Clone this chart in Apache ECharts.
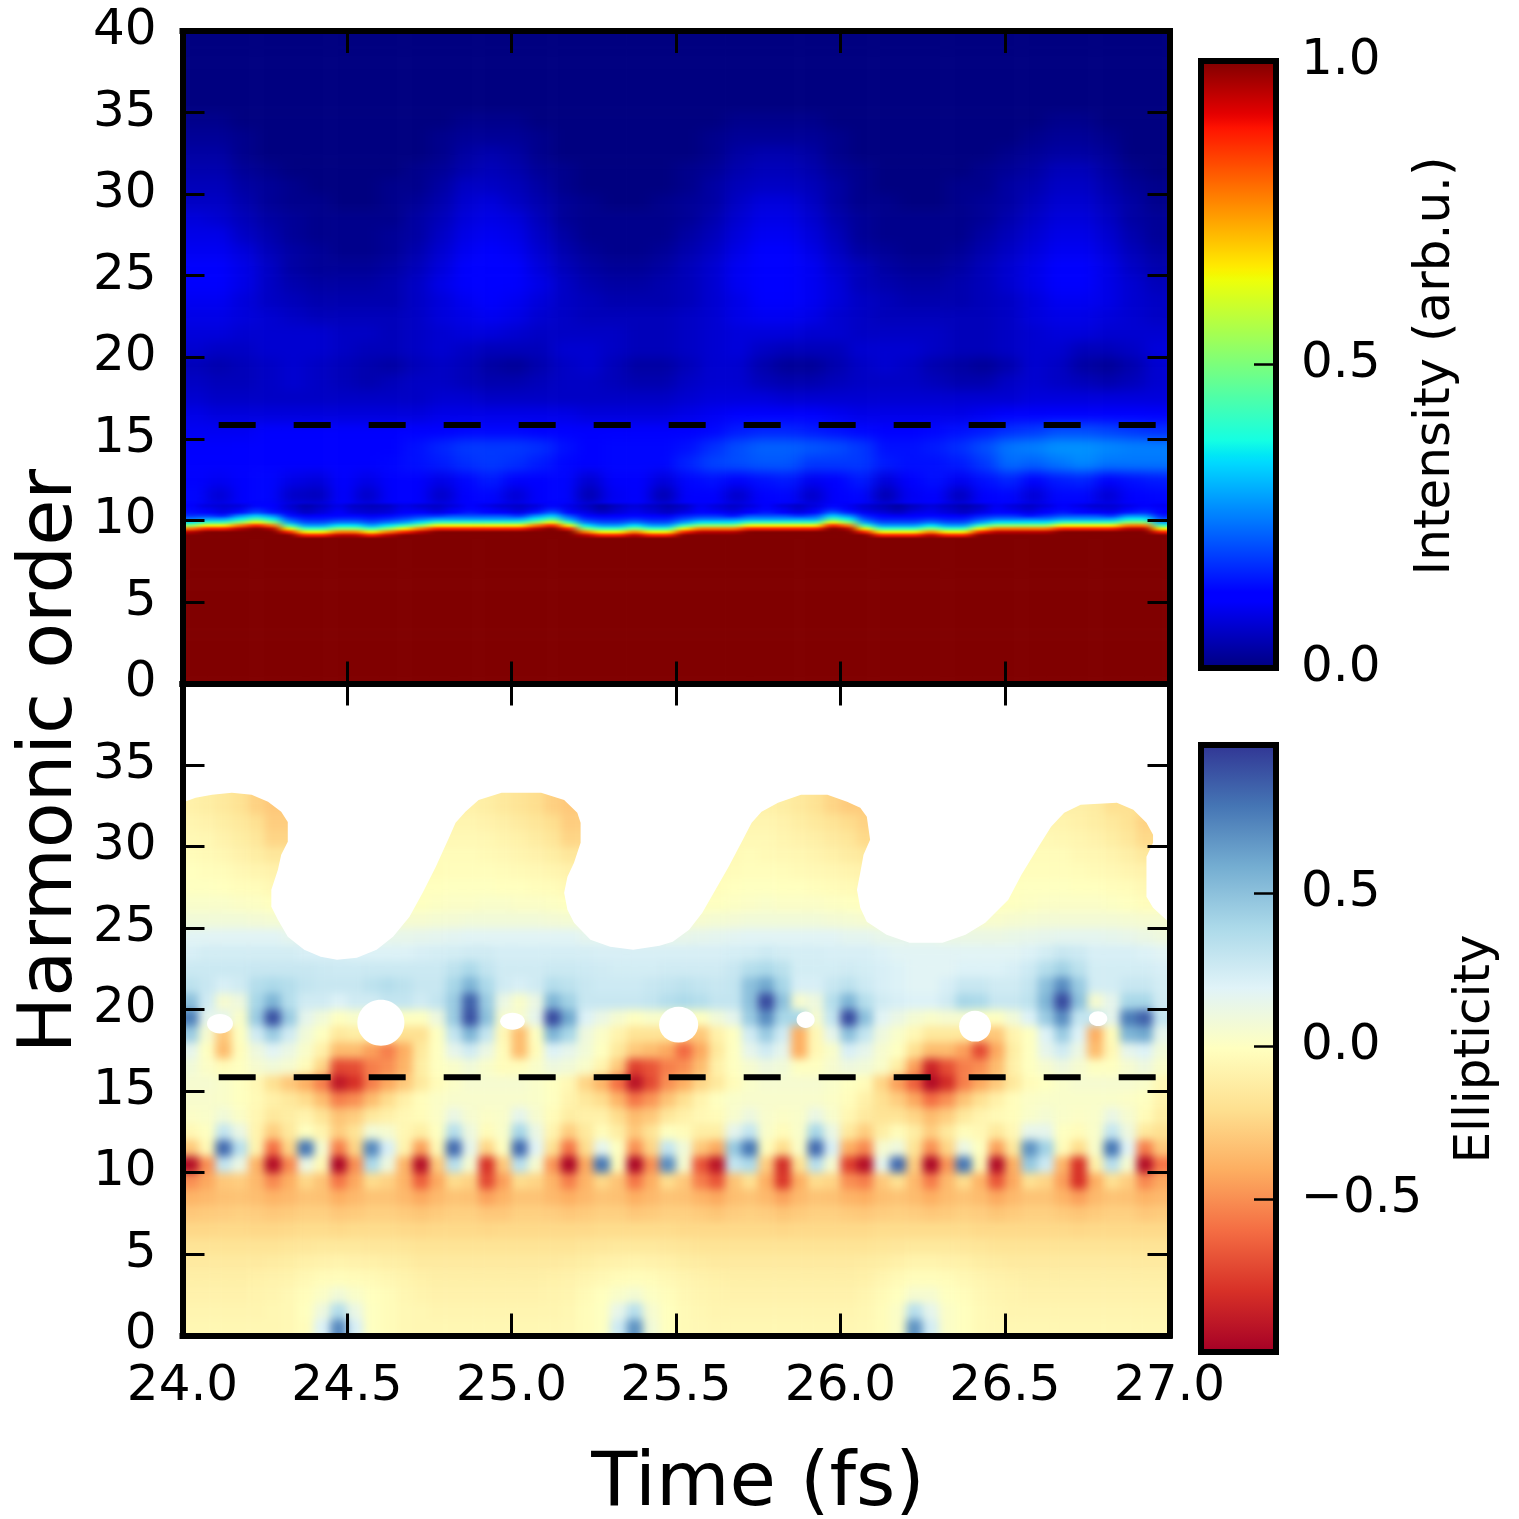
<!DOCTYPE html>
<html><head><meta charset="utf-8">
<style>html,body{margin:0;padding:0;background:#fff}#c{width:1519px;height:1519px}</style>
<script src="https://cdn.jsdelivr.net/npm/echarts@6/dist/echarts.min.js"></script>
</head><body>
<svg width="0" height="0" style="position:absolute">
<filter id="fA" x="-5%" y="-5%" width="110%" height="110%" color-interpolation-filters="sRGB"><feGaussianBlur stdDeviation="8 5.5"/></filter>
<filter id="fB" x="-5%" y="-5%" width="110%" height="110%" color-interpolation-filters="sRGB"><feGaussianBlur stdDeviation="6 1"/></filter>
<filter id="fC" x="-5%" y="-5%" width="110%" height="110%" color-interpolation-filters="sRGB"><feGaussianBlur stdDeviation="4.5 4"/></filter>
</svg>
<div id="c"></div>
<script>
const _ = null;
const xTicks = [24, 27, 0.5];
const orderTicks = [0, 40, 5];
const dashTimes = [24.11, 26.96];
const dashOrder = 15.85;
const red40 = [100,100,100,100,100,100,100,100,100,100,100,100,100,100,100,100,100,100,100,100,100,100,100,100,100,100,100,100,100,100,100,100,100,100,100,100,100,100,100,100];
const navy40 = [0,0,0,0,0,0,0,0,0,0,0,0,0,0,0,0,0,0,0,0,0,0,0,0,0,0,0,0,0,0,0,0,0,0,0,0,0,0,0,0];
const blank60 = [_,_,_,_,_,_,_,_,_,_,_,_,_,_,_,_,_,_,_,_,_,_,_,_,_,_,_,_,_,_,_,_,_,_,_,_,_,_,_,_,_,_,_,_,_,_,_,_,_,_,_,_,_,_,_,_,_,_,_,_];
// intensity, percent, rows are harmonic orders 0..39, 40 columns over 24-27 fs
const intensityRows = [
red40,red40,red40,red40,red40,red40,red40,red40,red40,red40,
[12,12,12,12,12,12,12,12,12,12,12,12,12,12,12,12,12,12,12,12,12,12,12,12,12,12,12,12,12,12,12,12,12,12,12,12,12,12,12,12],
[13,7,12,13,6,5,11,6,11,12,6,12,13,7,11,13,4,10,11,4,11,12,6,12,13,6,11,13,4,10,12,5,11,13,7,13,13,7,12,13],
[12,10,12,13,9,8,12,9,12,12,9,13,15,11,12,13,7,11,12,8,13,14,11,14,15,10,12,15,8,12,14,10,14,16,12,15,16,11,14,15],
[12,12,12,12,12,12,12,12,13,14,15,17,18,17,15,13,12,13,13,13,16,19,20,21,21,18,18,18,15,14,14,15,18,23,22,24,26,24,24,24],
[11,11,12,12,12,12,12,12,12,14,16,18,18,18,17,14,12,13,13,13,14,17,20,22,22,21,20,18,14,14,15,17,20,24,25,27,27,26,25,25],
[10,10,10,11,11,11,11,11,11,12,12,13,13,13,12,12,11,11,11,11,11,13,15,16,16,15,14,13,12,12,13,14,15,17,18,20,20,19,18,17],
[9,8,8,8,8,8,8,8,8,8,9,9,9,9,9,9,8,8,8,8,9,10,11,11,11,11,10,9,9,9,9,9,10,11,11,12,12,12,12,11],
[7,6,6,6,6,6,6,6,6,6,7,7,6,6,6,6,6,6,6,6,7,8,8,8,7,7,7,7,7,7,7,7,7,7,8,8,8,8,8,8],
[6,5,5,6,7,6,5,4,5,6,6,5,4,4,5,6,6,5,4,4,6,7,7,5,4,4,5,6,6,6,5,4,4,6,7,6,5,4,5,7],
[5,4,5,6,7,6,5,4,3,5,6,5,3,2,4,6,7,5,3,3,5,7,7,4,2,2,4,6,7,6,4,3,2,4,7,6,3,2,4,7],
[7,6,6,7,7,7,6,5,5,6,7,6,5,5,5,7,7,6,5,5,6,7,8,6,5,5,5,7,7,7,6,5,5,6,7,7,5,5,6,8],
[8,8,7,7,7,7,6,6,5,6,7,8,8,7,6,6,6,6,5,5,6,7,8,8,8,7,7,6,6,6,6,5,5,6,7,8,8,7,7,7],
[9,9,8,7,6,5,5,5,5,6,8,9,10,9,7,6,5,5,5,5,6,7,9,10,10,9,7,6,5,5,5,5,5,6,8,9,9,8,7,6],
[10,10,8,6,5,4,4,4,4,6,8,10,11,10,8,6,5,4,4,4,5,7,9,11,11,10,8,6,5,4,4,4,5,6,8,10,10,9,7,6],
[11,11,9,6,4,3,3,3,4,6,9,11,12,11,9,6,4,3,3,4,5,7,10,12,12,10,8,5,4,3,3,4,5,7,9,11,11,9,7,5],
[11,11,9,6,3,2,2,2,3,5,8,11,12,11,8,5,3,2,2,3,5,7,10,12,12,10,7,5,3,2,2,3,5,7,9,11,11,9,6,4],
[10,10,8,5,3,2,1,1,2,4,7,10,11,10,7,4,2,1,1,2,4,6,9,11,11,9,6,3,2,1,1,2,4,6,8,10,10,8,5,3],
[9,9,6,4,2,1,1,1,2,3,6,9,10,9,6,3,1,1,1,1,3,5,8,10,10,8,5,2,1,1,1,1,3,5,7,9,9,7,4,2],
[8,7,5,3,2,1,1,1,1,3,5,8,9,8,5,2,1,1,1,1,2,4,7,9,9,7,4,2,1,1,1,1,2,4,6,8,8,6,3,2],
[6,6,4,2,1,1,0,0,1,2,4,7,8,6,4,2,1,0,0,1,2,3,6,8,8,6,3,1,1,0,0,1,2,3,5,7,7,5,3,1],
[5,5,3,2,1,0,0,0,1,1,3,6,6,5,3,1,0,0,0,0,1,3,5,6,6,5,3,1,0,0,0,1,1,3,4,6,6,4,2,1],
[4,4,2,1,0,0,0,0,0,1,2,4,5,4,2,1,0,0,0,0,1,2,4,5,5,4,2,1,0,0,0,0,1,2,3,5,5,3,1,0],
[3,3,1,0,0,0,0,0,0,0,1,3,4,3,1,0,0,0,0,0,0,1,3,4,4,3,1,0,0,0,0,0,0,1,2,3,3,2,0,0],
[2,2,1,0,0,0,0,0,0,0,1,2,2,2,1,0,0,0,0,0,0,1,2,2,2,2,1,0,0,0,0,0,0,0,1,2,2,1,0,0],
[1,1,0,0,0,0,0,0,0,0,0,1,1,1,0,0,0,0,0,0,0,0,1,1,1,1,0,0,0,0,0,0,0,0,0,1,1,0,0,0],
navy40,navy40,navy40,navy40,navy40
];
// intensity around the cut-off edge, orders 9..11 in steps of 0.2, 60 columns
const edgeRows = [
[100,100,100,100,100,100,100,88,88,95, 95,88,95,100,100,100,100,100,100,100, 100,100,100,100,95,88,88,95,88,88, 100,100,100,100,100,100,100,100,100,100, 100,100,88,88,88,95,88,88,100,100, 100,100,100,100,100,100,100,100,100,100],
[95,100,100,100,100,100,88,65,65,78, 78,65,78,88,95,100,100,100,100,100, 100,100,100,100,78,65,65,78,65,65, 88,95,95,95,100,100,100,100,100,100, 100,88,65,65,65,78,65,65,88,95, 95,95,95,100,100,100,100,100,100,88],
[78,88,88,95,100,95,65,42,42,52, 52,42,52,65,78,88,88,88,88,88, 88,95,100,88,52,42,42,52,42,42, 65,78,78,78,88,88,88,88,88,100, 95,65,42,42,42,52,42,42,65,78, 78,78,78,88,88,88,88,95,95,65],
[52,65,65,78,88,78,42,28,28,35, 35,28,35,42,52,65,65,65,65,65, 65,78,88,65,35,28,28,35,28,28, 42,52,52,52,65,65,65,65,65,88, 78,42,28,28,28,35,28,28,42,52, 52,52,52,65,65,65,65,78,78,42],
[35,42,42,52,65,52,28,20,20,24, 24,20,24,28,35,42,42,42,42,42, 42,52,65,42,24,20,20,24,20,20, 28,35,35,35,42,42,42,42,42,65, 52,28,20,20,20,24,20,20,28,35, 35,35,35,42,42,42,42,52,52,28],
[24,28,28,36,45,36,20,15,15,17, 17,15,17,20,24,28,28,28,28,28, 28,36,45,28,17,15,15,17,15,15, 20,24,24,24,28,28,28,28,28,45, 36,20,15,15,15,17,15,15,20,24, 24,24,24,28,28,28,28,36,36,20],
[17,18,15,26,32,26,14,10,12,13, 13,10,13,15,17,17,20,20,20,20, 17,26,32,20,13,10,12,13,12,10, 15,17,17,14,20,20,20,17,20,32, 26,15,12,10,12,13,12,10,15,17, 17,14,17,20,20,20,17,26,26,15],
[14,12,9,14,20,15,10,6,8,11, 8,7,8,11,12,9,12,15,13,11, 9,15,22,13,9,6,8,10,8,6, 9,13,12,9,12,15,12,9,13,22, 16,10,8,6,9,10,8,6,9,13, 12,9,12,15,13,11,10,15,17,12],
[13,10,8,10,16,13,8,5,7,10, 7,6,7,10,9,7,10,13,11,9, 7,10,16,10,7,4,7,9,7,5, 7,11,9,7,10,13,10,7,10,16, 12,8,6,4,7,9,7,5,7,11, 9,7,10,13,11,9,8,11,14,11],
[12,8,7,8,13,12,7,4,6,9, 6,5,6,9,7,6,8,12,9,7, 6,8,13,9,6,3,6,8,6,4, 6,10,8,6,8,12,8,6,8,13, 10,7,5,3,6,8,6,4,6,10, 8,6,8,12,9,7,7,9,12,10]
];
// ellipticity, percent, rows are harmonic orders 0..39, 60 columns; null = not plotted
const ellipticityRows = [
[-6,-6,-6,-6,-6,-6,-5,-2,20,72, 22,0,-3,-5,-6,-6,-6,-6,-6,-6, -6,-6,-6,-5,-3,0,26,68,8,-1, -4,-5,-6,-6,-6,-6,-6,-6,-6,-6, -6,-5,-3,2,68,24,2,-1,-4,-5, -6,-6,-6,-6,-6,-6,-6,-6,-6,-6],
[-7,-7,-7,-7,-7,-6,-5,-1,10,36, 12,0,-3,-5,-6,-7,-7,-7,-7,-7, -7,-7,-7,-6,-3,0,14,34,5,-1, -4,-6,-7,-7,-7,-7,-7,-7,-7,-7, -7,-6,-3,2,34,15,2,-1,-4,-6, -7,-7,-7,-7,-7,-7,-7,-7,-7,-7],
[-9,-9,-9,-9,-8,-7,-5,-2,2,8, 3,-1,-3,-6,-8,-9,-9,-9,-9,-9, -9,-9,-8,-7,-4,-1,3,6,1,-2, -5,-7,-8,-9,-9,-9,-9,-9,-9,-9, -9,-7,-4,-1,5,5,0,-2,-5,-7, -8,-9,-9,-9,-9,-9,-9,-9,-9,-9],
[-11,-11,-11,-11,-10,-9,-8,-5,-3,-2, -3,-4,-6,-8,-10,-11,-11,-11,-11,-11, -11,-11,-10,-9,-7,-5,-3,-2,-3,-5, -7,-9,-10,-11,-11,-11,-11,-11,-11,-11, -11,-10,-7,-4,-2,-2,-3,-5,-7,-9, -10,-11,-11,-11,-11,-11,-11,-11,-11,-11],
[-14,-14,-14,-14,-14,-13,-12,-10,-9,-8, -9,-10,-11,-12,-14,-14,-14,-14,-14,-14, -14,-14,-14,-13,-12,-10,-9,-8,-9,-10, -12,-13,-14,-14,-14,-14,-14,-14,-14,-14, -14,-13,-12,-10,-8,-8,-9,-10,-12,-13, -14,-14,-14,-14,-14,-14,-14,-14,-14,-14],
[-18,-18,-18,-18,-18,-18,-17,-16,-15,-15, -15,-16,-16,-17,-18,-18,-18,-18,-18,-18, -18,-18,-18,-18,-17,-16,-15,-15,-15,-16, -17,-18,-18,-18,-18,-18,-18,-18,-18,-18, -18,-18,-17,-16,-15,-15,-15,-16,-17,-18, -18,-18,-18,-18,-18,-18,-18,-18,-18,-18],
[-24,-24,-23,-23,-24,-24,-23,-22,-22,-23, -22,-22,-22,-23,-24,-23,-23,-23,-24,-23, -23,-23,-23,-23,-23,-22,-22,-22,-22,-22, -23,-23,-23,-23,-23,-23,-24,-23,-23,-23, -23,-23,-22,-22,-22,-22,-22,-22,-23,-23, -23,-23,-23,-23,-24,-23,-23,-23,-23,-23],
[-30,-29,-28,-27,-28,-30,-29,-27,-27,-30, -29,-27,-27,-29,-31,-29,-27,-27,-30,-30, -27,-27,-28,-30,-29,-27,-27,-30,-29,-27, -27,-29,-31,-28,-27,-28,-31,-29,-27,-27, -29,-30,-28,-27,-28,-30,-29,-27,-28,-31, -29,-27,-27,-29,-31,-29,-27,-27,-30,-29],
[-38,-36,-33,-32,-34,-38,-36,-32,-33,-40, -36,-32,-32,-36,-42,-36,-32,-33,-44,-38, -32,-32,-36,-40,-36,-32,-33,-40,-36,-32, -33,-38,-42,-34,-32,-36,-44,-36,-32,-33, -38,-40,-34,-32,-35,-40,-35,-32,-35,-42, -36,-32,-32,-38,-45,-36,-32,-33,-38,-36],
[-50,-42,-30,-28,-36,-52,-40,-24,-32,-58, -42,-22,-26,-38,-65,-42,-22,-26,-72,-45, -22,-25,-38,-55,-38,-24,-32,-58,-40,-22, -30,-55,-68,-32,-20,-40,-78,-40,-22,-25, -50,-55,-30,-20,-36,-56,-36,-22,-38,-68, -42,-20,-25,-45,-80,-40,-20,-28,-52,-42],
[-95,-50,30,12,-38,-95,-52,12,-5,-98, -50,38,10,-38,-95,-30,34,5,-80,-30, 34,5,-48,-98,-42,78,-3,-98,-50,70, 5,-68,-92,30,38,-28,-82,-20,34,5, -75,-95,15,82,-28,-98,-48,78,-5,-96, -40,46,26,-38,-80,-10,34,5,-95,-58],
[-30,-5,82,34,-8,-60,-25,78,5,-55, -25,72,22,-8,-45,-5,82,15,-25,0, 82,18,-20,-58,-22,16,0,-50,-25,30, 8,-30,-42,46,78,-2,-22,2,82,22, -40,-52,5,10,-18,-50,-25,12,0,-45, -15,68,42,-3,-22,3,78,18,-55,-30],
[-5,0,30,12,-8,-28,-15,0,-8,-28, -18,8,5,-6,-12,0,35,10,-3,3, 40,12,-8,-28,-15,-3,-12,-30,-18,0, -3,-12,-12,15,30,3,-3,3,40,12, -15,-28,-12,-3,-12,-28,-15,-2,-5,-15, -5,15,15,0,-3,3,30,10,-15,-20],
[2,3,8,2,-6,-15,-12,-8,-18,-32, -28,-15,-10,-5,-3,2,12,5,2,3, 15,5,-3,-12,-10,-10,-22,-35,-30,-16, -10,-5,-3,4,10,4,2,3,12,4, -6,-14,-18,-18,-25,-35,-28,-15,-8,-4, -2,3,6,3,2,3,12,5,-3,-12],
[4,4,3,0,-4,-10,-15,-22,-35,-55, -50,-35,-22,-10,-2,2,4,4,4,4, 4,3,0,-8,-15,-22,-38,-58,-48,-32, -20,-8,0,3,4,4,4,4,4,2, -2,-10,-20,-28,-42,-60,-50,-32,-20,-10, -2,2,3,3,3,3,3,2,0,-8],
[5,5,3,0,-5,-20,-30,-40,-55,-90, -80,-55,-42,-30,-15,-3,2,5,5,5, 5,3,0,-5,-25,-38,-60,-92,-72,-50, -40,-25,-15,-3,3,5,5,5,5,3, 0,-3,-25,-45,-65,-95,-82,-55,-42,-30, -15,-3,0,3,5,5,5,5,3,-5],
[8,2,-3,0,5,8,5,-3,-25,-72, -70,-55,-50,-38,-12,0,3,8,3,-2, -2,3,10,8,3,-8,-30,-75,-68,-55, -50,-35,-10,0,5,10,8,0,0,5, 10,8,3,-12,-45,-85,-70,-55,-50,-35, -10,0,5,10,5,0,0,5,10,3],
[15,0,-35,-2,10,18,12,3,-10,-35, -35,-45,-55,-40,-15,0,15,25,12,-3, -35,-3,20,15,8,0,-15,-30,-35,-42, -62,-42,-15,0,15,25,15,-40,-5,3, 22,15,5,0,-20,-35,-35,-45,-72,-42, -12,0,15,25,12,-35,-5,15,20,8],
[45,5,-30,0,25,45,25,8,0,-15, -12,_,_,_,-20,0,30,55,30,-5, -35,0,55,40,10,2,-8,-18,-18,_, _,-30,-10,0,25,45,25,-40,-5,15, 50,30,10,3,-5,-15,-15,_,_,-30, -8,0,20,45,20,-40,-3,55,60,15],
[75,15,_,3,45,90,45,15,8,0, 3,_,_,_,0,10,45,90,50,5, _,15,92,60,20,12,5,0,3,_, _,0,8,15,45,70,40,_,5,30, 92,50,18,12,6,3,5,_,_,0, 8,20,45,70,30,_,15,75,85,30],
[50,25,5,10,40,55,35,25,25,20, 25,_,_,30,25,30,45,85,45,12, 3,12,55,42,28,28,28,28,30,35, 38,35,30,30,50,92,50,5,10,35, 55,35,25,22,20,20,25,40,38,28, 28,32,55,92,50,5,15,40,40,25],
[32,28,22,25,35,38,35,30,28,28, 28,32,35,32,28,28,40,55,38,25, 22,25,35,32,28,26,26,26,28,30, 32,30,28,30,50,60,40,22,22,28, 32,26,22,20,18,18,22,28,28,25, 25,30,50,70,45,24,24,28,28,24],
[27,27,27,27,28,28,28,28,27,26, 26,27,27,27,27,27,32,38,30,25, 25,25,27,27,26,25,24,24,24,25, 25,25,25,28,35,38,33,24,24,24, 25,24,22,20,18,18,18,20,20,20, 22,26,35,42,33,24,24,24,24,22],
[22,24,24,24,24,24,24,22,_,_, _,_,20,20,22,23,24,25,25,23, 23,23,23,23,23,22,22,22,22,22, 22,22,22,23,24,26,24,23,23,22, 22,22,20,18,18,18,18,18,18,18, 18,20,24,28,26,22,22,22,20,18],
[18,18,18,18,18,18,16,_,_,_, _,_,_,14,15,16,17,18,18,18, 18,18,18,18,16,_,_,_,_,_, 14,15,16,17,18,18,18,18,18,18, 16,16,14,_,_,_,_,_,12,12, 13,14,15,16,16,16,15,14,12,10],
[8,8,8,8,7,6,_,_,_,_, _,_,_,_,5,6,7,8,8,8, 8,8,7,6,_,_,_,_,_,_, _,5,6,7,8,8,8,8,8,7, 6,5,_,_,_,_,_,_,_,4, 5,6,7,7,7,7,7,6,5,_],
[3,3,3,2,1,-1,_,_,_,_, _,_,_,_,0,1,2,2,3,3, 2,2,1,0,_,_,_,_,_,_, _,_,0,1,2,3,2,2,2,1, 0,-1,_,_,_,_,_,_,_,_, 0,1,2,2,2,2,1,0,-2,_],
[0,0,-1,-2,-3,-5,_,_,_,_, _,_,_,_,_,-1,0,0,0,-1, -1,-2,-3,-5,_,_,_,_,_,_, _,_,-2,-1,0,0,-1,-1,-2,-3, -4,-5,_,_,_,_,_,_,_,_, -1,0,0,0,-1,-1,-2,-3,-5,_],
[-1,-2,-3,-5,-7,-9,_,_,_,_, _,_,_,_,_,-3,-2,-2,-2,-3, -4,-5,-7,-9,_,_,_,_,_,_, _,_,_,-3,-2,-2,-3,-4,-5,-6, -8,-9,_,_,_,_,_,_,_,_, _,-2,-2,-2,-3,-4,-5,-7,-9,_],
[-3,-4,-6,-9,-12,-16,_,_,_,_, _,_,_,_,_,_,-3,-3,-4,-5, -7,-9,-12,-16,_,_,_,_,_,_, _,_,_,-4,-3,-4,-5,-6,-8,-10, -13,-15,_,_,_,_,_,_,_,_, _,_,-3,-3,-5,-6,-8,-11,-15,_],
[-5,-6,-9,-12,-16,-25,_,_,_,_, _,_,_,_,_,_,-5,-5,-6,-8, -10,-13,-17,-25,_,_,_,_,_,_, _,_,_,_,-5,-5,-7,-9,-11,-14, -17,-23,_,_,_,_,_,_,_,_, _,_,-5,-6,-7,-9,-12,-16,-23,_],
[-7,-9,-12,-15,-20,-28,_,_,_,_, _,_,_,_,_,_,_,-7,-9,-11, -14,-17,-21,-28,_,_,_,_,_,_, _,_,_,_,_,-7,-9,-12,-15,-18, -22,-26,_,_,_,_,_,_,_,_, _,_,_,-8,-10,-12,-15,-19,-26,_],
[-10,-12,-15,-19,-26,-30,_,_,_,_, _,_,_,_,_,_,_,-10,-12,-15, -18,-21,-27,-30,_,_,_,_,_,_, _,_,_,_,_,-10,-12,-15,-19,-25, -29,_,_,_,_,_,_,_,_,_, _,_,_,_,-11,-13,-20,_,_,_],
blank60,blank60,blank60,blank60,blank60,blank60,blank60
];
// outline of the not-plotted region above the ellipticity signal
const maskTime = [24,24.04,24.09,24.15,24.21,24.26,24.30,24.32,24.32,24.30,24.29,24.27,24.27,24.29,24.32,24.37,24.42,24.47,24.53,24.59,24.64,24.69,24.73,24.77,24.81,24.83,24.86,24.90,24.97,25.09,25.16,25.20,25.21,25.21,25.19,25.17,25.16,25.17,25.19,25.24,25.30,25.37,25.45,25.49,25.54,25.58,25.62,25.66,25.70,25.73,25.76,25.81,25.88,25.96,26.02,26.06,26.08,26.09,26.07,26.06,26.05,26.06,26.08,26.14,26.21,26.31,26.38,26.44,26.51,26.55,26.60,26.64,26.68,26.73,26.84,26.89,26.93,26.95,26.95,26.93,26.93,26.95,26.99,27,27,24];
const maskOrder = [32.7,32.99,33.17,33.29,33.17,32.74,32.13,31.51,30.29,29.49,28.57,27.35,26.30,25.51,24.46,23.67,23.24,23.05,23.18,23.67,24.46,25.69,27.16,28.76,30.53,31.45,32.13,32.86,33.29,33.29,32.86,32.07,31.45,30.23,29.0,28.14,27.16,26.12,25.32,24.28,23.85,23.67,23.91,24.16,24.89,25.94,27.35,28.76,30.29,31.45,32.13,32.68,33.17,33.17,32.74,32.37,31.82,30.41,29.49,28.39,27.35,26.24,25.38,24.59,24.1,24.1,24.59,25.32,26.73,28.27,29.92,31.21,32.07,32.56,32.68,32.25,31.45,30.72,30.23,29.37,26.92,26.24,25.51,25.3,40,40];
// not-plotted islands: centre time, centre order, width (fs), height (orders)
const holeTime = [24.114,24.603,25.003,25.508,25.894,26.409,26.783];
const holeOrder = [19.13,19.19,19.28,19.07,19.37,18.98,19.44];
const holeWidth = [0.079,0.143,0.075,0.119,0.055,0.097,0.056];
const holeHeight = [1.2,2.82,1.04,2.2,1.0,1.9,0.9];
const intensityBar = [0, 1];
const ellipticityBar = [-1, 0.984];

const FONT = 'DejaVu Sans';
const P = {l:182.5, w:987, t1:31, h:652.5, t2:683.5};
function jetAt(t){
  const seg=(pts)=>{for(let i=1;i<pts.length;i++){if(t<=pts[i][0]){const a=pts[i-1],b=pts[i];return a[1]+(b[1]-a[1])*(t-a[0])/(b[0]-a[0]);}}return pts[pts.length-1][1];};
  const r=seg([[0,0],[.35,0],[.66,1],[.89,1],[1,.5]]),g=seg([[0,0],[.125,0],[.375,1],[.64,1],[.91,0],[1,0]]),b=seg([[0,.5],[.11,1],[.34,1],[.65,0],[1,0]]);
  return 'rgb('+Math.round(r*255)+','+Math.round(g*255)+','+Math.round(b*255)+')';
}
const jet=[];for(let i=0;i<=128;i++)jet.push(jetAt(i/128));
const rdylbu=['#a50026','#d73027','#f46d43','#fdae61','#fee090','#ffffbf','#e0f3f8','#abd9e9','#74add1','#4575b4','#313695'];
const stops=(cols)=>cols.map((c,i)=>({offset:i/(cols.length-1),color:c}));
function cells(rows){const out=[];rows.forEach((row,y)=>row.forEach((v,x)=>{if(v!==null)out.push([x,y,v]);}));return out;}
const idx=n=>Array.from({length:n},(_v,i)=>String(i));
// cells under the white mask take the colour of the nearest plotted cell in their row, so softening leaves no fringe
function underMask(rows){
  let prev=null;
  return rows.map(r=>{
    if(r.every(v=>v===null))return prev;
    const o=r.map((v,i)=>{if(v!==null)return v;for(let d=1;d<r.length;d++){if(i-d>=0&&r[i-d]!==null)return r[i-d];if(i+d<r.length&&r[i+d]!==null)return r[i+d];}return 0;});
    prev=o;return o;
  });
}
// one extra cell round the panel (clipped away) keeps its rim from fading
const padCols=rows=>rows.map(r=>[r[0],...r,r[r.length-1]]);
const padBoth=rows=>{const p=padCols(rows);return [p[0],...p,p[p.length-1]];};
const ROWH=P.h/40;
const grids=[
 {left:P.l-P.w/40,top:P.t1-ROWH,width:P.w+P.w/20,height:P.h+2*ROWH},
 {left:P.l-P.w/60,top:P.t2-11*ROWH,width:P.w+P.w/30,height:2*ROWH},
 {left:P.l,top:P.t1,width:P.w,height:P.h},
 {left:P.l-P.w/60,top:P.t2-ROWH,width:P.w+P.w/30,height:P.h-0.5+2*ROWH},
 {left:P.l,top:P.t2,width:P.w,height:P.h-0.5},
 {left:1201,top:61,width:75,height:607},
 {left:1201,top:745,width:75,height:607}
];
const ZA=3;
const spine={show:true,onZero:false,lineStyle:{color:'#000',width:6,cap:'square'}};
const tick={show:true,inside:true,length:22,lineStyle:{color:'#000',width:3}};
const lab={color:'#000',fontFamily:FONT,fontSize:50};
const catX=(g,n)=>({type:'category',gridIndex:g,data:idx(n),show:false});
const catY=catX;
const timeAxis=(g,pos,labels)=>({type:'value',gridIndex:g,position:pos,min:xTicks[0],max:xTicks[1],interval:xTicks[2],zlevel:ZA,z:10,splitLine:{show:false},axisLine:spine,axisTick:tick,
  axisLabel:labels?{...lab,margin:27,formatter:v=>v.toFixed(1)}:{show:false}});
const orderAxis=(g,pos,labels,hideTop)=>({type:'value',gridIndex:g,position:pos,min:orderTicks[0],max:orderTicks[1],interval:orderTicks[2],zlevel:ZA,z:10,splitLine:{show:false},axisLine:spine,axisTick:tick,
  axisLabel:labels?{...lab,margin:26,formatter:v=>(hideTop&&v===40)?'':String(v)}:{show:false}});
const barX=(g,pos)=>({type:'value',gridIndex:g,position:pos,min:0,max:1,zlevel:ZA,z:10,splitLine:{show:false},axisLine:spine,axisTick:{show:false},axisLabel:{show:false}});
const barYL=(g,r)=>({type:'value',gridIndex:g,position:'left',min:r[0],max:r[1],zlevel:ZA,z:10,splitLine:{show:false},axisLine:spine,axisTick:{show:false},axisLabel:{show:false}});
const barYR=(g,r,fmt)=>({type:'value',gridIndex:g,position:'right',min:r[0],max:r[1],interval:0.5,zlevel:ZA,z:10,splitLine:{show:false},axisLine:spine,
  axisTick:{show:true,inside:true,length:22,lineStyle:{color:'#000',width:2.5}},
  axisLabel:{...lab,margin:25,showMinLabel:true,showMaxLabel:true,formatter:fmt}});
const barFmt1=v=>v.toFixed(1);
const barFmt2=v=>(v<=-0.99||v>0.9)?'':(v<0?'\u2212'+Math.abs(v).toFixed(1):v.toFixed(1));

const heat=(x,y,rows,zl)=>({type:'heatmap',xAxisIndex:x,yAxisIndex:y,data:cells(rows),zlevel:zl,z:2,progressive:0,silent:true,emphasis:{disabled:true},itemStyle:{borderWidth:0}});
const dash=(x,y)=>({type:'line',xAxisIndex:x,yAxisIndex:y,zlevel:ZA,z:6,symbol:'none',silent:true,data:dashTimes.map(t=>[t,dashOrder]),lineStyle:{color:'#000',width:6,type:[37,38],cap:'butt'}});
const bar=(x,y,r,cols)=>({type:'custom',xAxisIndex:x,yAxisIndex:y,zlevel:ZA,z:3,silent:true,data:[[0,r[0],1,r[1]]],clip:false,
  renderItem:(p,api)=>{const a=api.coord([api.value(0),api.value(1)]),b=api.coord([api.value(2),api.value(3)]);
    return {type:'rect',shape:{x:a[0],y:b[1],width:b[0]-a[0],height:a[1]-b[1]},style:{fill:new echarts.graphic.LinearGradient(0,1,0,0,stops(cols))}};}});
const mask={type:'custom',xAxisIndex:5,yAxisIndex:5,zlevel:ZA,z:4,silent:true,clip:false,data:[[24,40]],
  renderItem:(p,api)=>({type:'polygon',shape:{points:maskTime.map((t,i)=>api.coord([t,maskOrder[i]]))},style:{fill:'#fff'}})};
const holes={type:'custom',xAxisIndex:5,yAxisIndex:5,zlevel:ZA,z:4,silent:true,clip:false,
  data:holeTime.map((t,i)=>[t,holeOrder[i],holeWidth[i],holeHeight[i]]),
  renderItem:(p,api)=>{const c=api.coord([api.value(0),api.value(1)]),s=api.size([api.value(2),api.value(3)]);
    return {type:'ellipse',shape:{cx:c[0],cy:c[1],rx:s[0]/2,ry:s[1]/2},style:{fill:'#fff'}};}};
const words=(t,x,y,size,rot)=>({type:'text',x,y,rotation:rot,zlevel:ZA,z:20,style:{text:t,fontFamily:FONT,fontSize:size,fill:'#000',textAlign:'center',textVerticalAlign:'middle'}});

const chart=echarts.init(document.getElementById('c'),null,{renderer:'canvas',width:1519,height:1519});
chart.setOption({
 animation:false,backgroundColor:'transparent',
 grid:grids,
 xAxis:[catX(0,42),catX(1,62),timeAxis(2,'bottom',false),timeAxis(2,'top',false),catX(3,62),timeAxis(4,'bottom',true),timeAxis(4,'top',false),barX(5,'bottom'),barX(5,'top'),barX(6,'bottom'),barX(6,'top')],
 yAxis:[catY(0,42),catY(1,10),orderAxis(2,'left',true,false),orderAxis(2,'right',false),catY(3,42),orderAxis(4,'left',true,true),orderAxis(4,'right',false),barYL(5,intensityBar),barYR(5,intensityBar,barFmt1),barYL(6,ellipticityBar),barYR(6,ellipticityBar,barFmt2)],
 visualMap:[
  {show:false,type:'continuous',seriesIndex:[0,1],min:0,max:100,inRange:{color:jet}},
  {show:false,type:'continuous',seriesIndex:[2],min:-100,max:98.4,inRange:{color:rdylbu}}
 ],
 series:[
  heat(0,0,padBoth(intensityRows),0),heat(1,1,padCols(edgeRows),1),heat(4,4,padBoth(underMask(ellipticityRows)),2),
  dash(2,2),dash(5,5),
  bar(7,7,intensityBar,jet),bar(9,9,ellipticityBar,rdylbu),
  mask,holes
 ],
 graphic:[
  words('Harmonic order',52,761,75,Math.PI/2),
  words('Time (fs)',758,1485,75.5,0),
  words('Intensity (arb.u.)',1436,366,50,Math.PI/2),
  words('Ellipticity',1476,1049,50,Math.PI/2)
 ]
});
function soften(){
  const painter=chart.getZr().painter;
  const top='inset(31px 349.5px 835.5px 182.5px)',bot='inset(683.5px 349.5px 183px 182.5px)';
  [[0,'url(#fA)',top],[1,'url(#fB)',top],[2,'url(#fC)',bot]].forEach(([z,f,c])=>{
    const d=painter.getLayer(z).dom;d.style.filter=f;d.style.clipPath=c;
  });
}
soften();
chart.on('finished',soften);
</script></body></html>
